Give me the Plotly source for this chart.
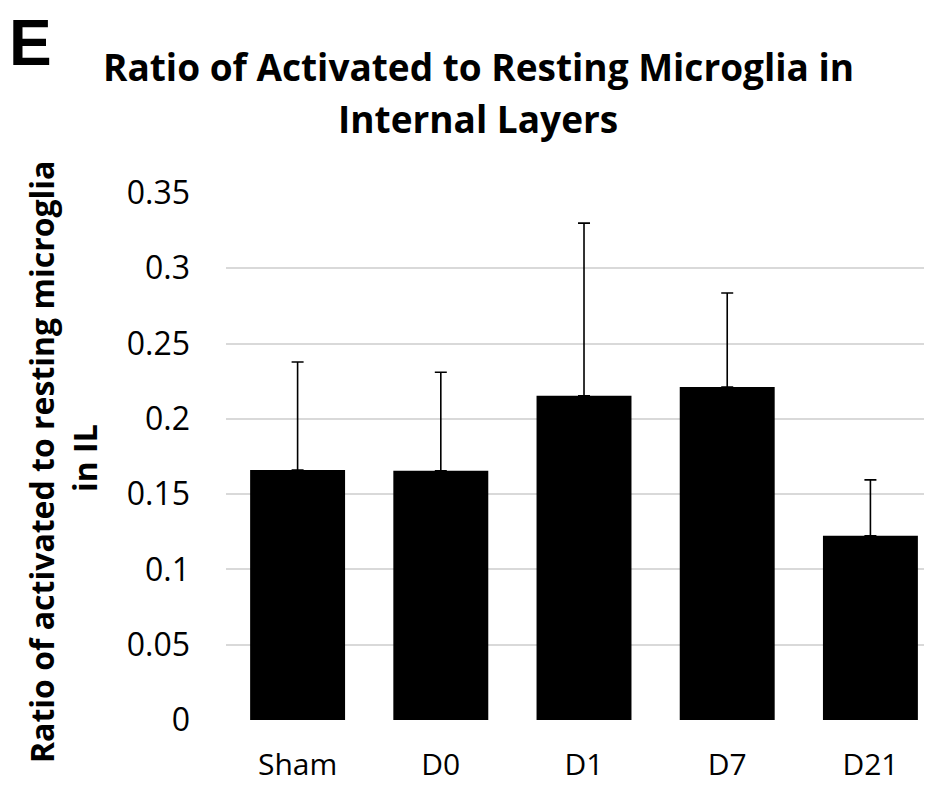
import plotly.graph_objects as go

categories = ["Sham", "D0", "D1", "D7", "D21"]
values = [0.166, 0.1655, 0.2153, 0.2212, 0.1224]
errors_plus = [0.0718, 0.0655, 0.1147, 0.0624, 0.0371]
y_ticks = [0, 0.05, 0.1, 0.15, 0.2, 0.25, 0.3, 0.35]
y_tick_labels = ["0", "0.05", "0.1", "0.15", "0.2", "0.25", "0.3", "0.35"]

FONT = "Open Sans, sans-serif"

# the page adds an 8px body margin; plot coordinates below are page - 8
W, H = 932, 787
L, R, T, B = 218, 8, 185, 75
PW, PH = W - L - R, H - T - B


def px(x):
    return (x - L) / PW


def py(y):
    return (H - B - y) / PH


fig = go.Figure()
fig.add_trace(go.Bar(
    x=categories,
    y=values,
    marker=dict(color="black", line=dict(width=0)),
    error_y=dict(type="data", array=errors_plus, arrayminus=[0] * len(values),
                 symmetric=False, color="black", thickness=1.6, width=6),
    width=0.663,
))

fig.update_layout(
    width=W, height=H,
    paper_bgcolor="white", plot_bgcolor="white",
    margin=dict(l=L, r=R, t=T, b=B, autoexpand=False),
    showlegend=False,
    xaxis=dict(range=[-0.5, 4.43], showgrid=False, zeroline=False, showline=False,
               ticks="", ticklabelstandoff=24,
               tickfont=dict(family=FONT, size=30, color="black")),
    yaxis=dict(range=[0, 0.35], tickvals=y_ticks, ticktext=y_tick_labels,
               showgrid=True, gridcolor="#d9d9d9", gridwidth=2,
               zeroline=False, showline=False, ticks="", ticklabelstandoff=35,
               tickfont=dict(family=FONT, size=32, color="black")),
    annotations=[
        dict(text="<b>E</b>", x=px(22), y=py(35), xref="paper", yref="paper",
             showarrow=False, xanchor="center", yanchor="middle",
             font=dict(family="Liberation Sans, Arial, sans-serif", size=64, color="black")),
        dict(text="<b>Ratio of Activated to Resting Microglia in</b>",
             x=px(470), y=py(58), xref="paper", yref="paper",
             showarrow=False, xanchor="center", yanchor="middle",
             font=dict(family=FONT, size=37, color="black")),
        dict(text="<b>Internal Layers</b>",
             x=px(470), y=py(110.5), xref="paper", yref="paper",
             showarrow=False, xanchor="center", yanchor="middle",
             font=dict(family=FONT, size=37, color="black")),
        dict(text="<b>Ratio of activated to resting microglia</b>",
             x=px(33), y=py(454), xref="paper", yref="paper",
             showarrow=False, textangle=-90, xanchor="center", yanchor="middle",
             font=dict(family=FONT, size=32, color="black")),
        dict(text="<b>in IL</b>",
             x=px(76), y=py(450), xref="paper", yref="paper",
             showarrow=False, textangle=-90, xanchor="center", yanchor="middle",
             font=dict(family=FONT, size=32, color="black")),
    ],
)

fig.write_html("out.html")
